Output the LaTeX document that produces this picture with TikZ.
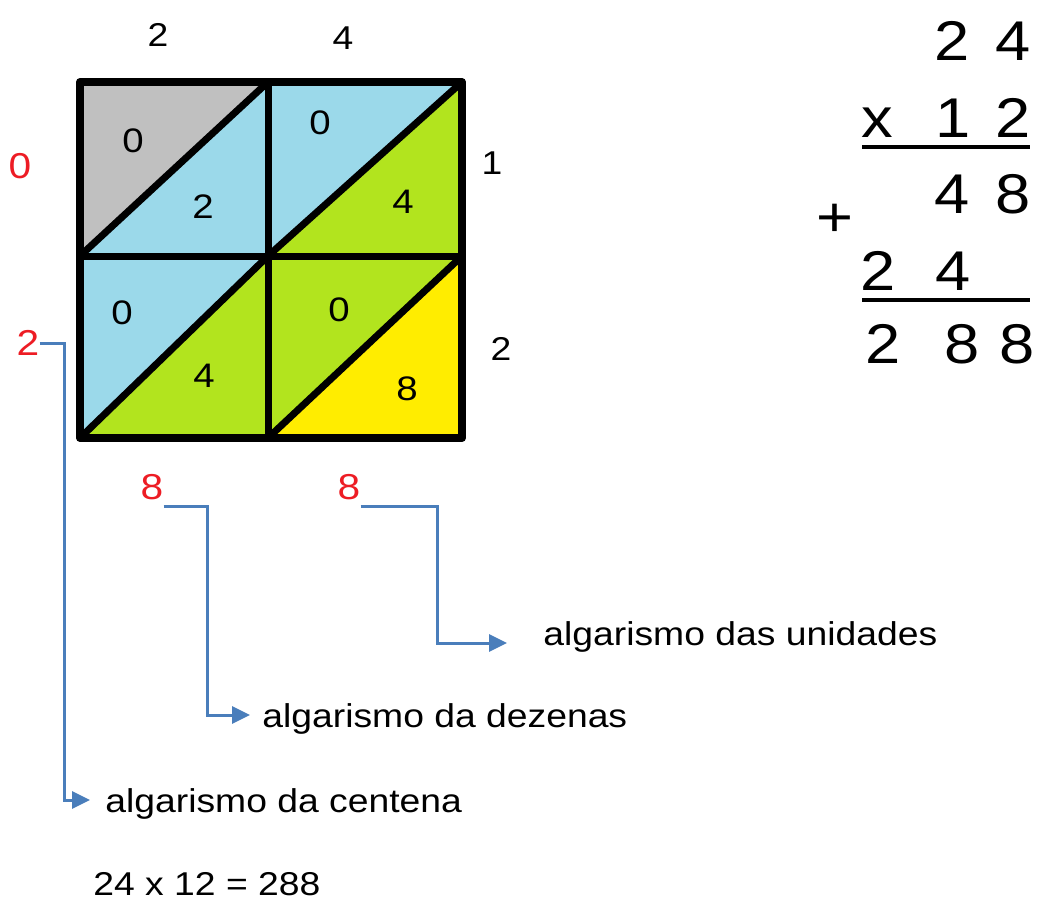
\documentclass[tikz,border=0pt]{standalone}
\usepackage{xcolor}
\usepackage{fontspec}
\setmainfont{Liberation Sans}[FakeStretch=1.13]
\usepackage{tikz}
\usetikzlibrary{arrows.meta}

\definecolor{cellgray}{RGB}{192,192,192}
\definecolor{cellblue}{RGB}{155,217,234}
\definecolor{cellgreen}{RGB}{178,228,30}
\definecolor{cellyellow}{RGB}{255,237,0}
\definecolor{digitred}{RGB}{237,28,36}
\definecolor{linkblue}{RGB}{74,126,187}

\begin{document}
\begin{tikzpicture}[
    x=0.5pt, y=-0.5pt,
    every node/.style={inner sep=0pt},
    gridline/.style={line width=3.5pt, line cap=round, line join=round},
    celldigit/.style={font=\fontsize{17}{20}\selectfont},
    factor/.style={font=\fontsize{16.5}{19}\selectfont},
    result/.style={font=\fontsize{18}{21}\selectfont, text=digitred},
    sumdigit/.style={font=\fontsize{28}{33}\selectfont, anchor=base},
    caption/.style={font=\fontsize{16.5}{20}\selectfont, anchor=base west},
    link/.style={draw=linkblue, line width=1.5pt, -{Triangle[length=9pt, width=8.5pt]}}
]
\useasboundingbox (0,0) rectangle (1042,901);

% Lattice corners
\coordinate (TL) at (80,82);  \coordinate (TM) at (268,82);  \coordinate (TR) at (462,82);
\coordinate (ML) at (80,256); \coordinate (MM) at (268,256); \coordinate (MR) at (462,256);
\coordinate (BL) at (80,438); \coordinate (BM) at (268,438); \coordinate (BR) at (462,438);

% Cell halves
\fill[cellgray]   (TL) -- (TM) -- (ML) -- cycle;
\fill[cellblue]   (TM) -- (MM) -- (ML) -- cycle;
\fill[cellblue]   (TM) -- (TR) -- (MM) -- cycle;
\fill[cellgreen]  (TR) -- (MR) -- (MM) -- cycle;
\fill[cellblue]   (ML) -- (MM) -- (BL) -- cycle;
\fill[cellgreen]  (MM) -- (BM) -- (BL) -- cycle;
\fill[cellgreen]  (MM) -- (MR) -- (BM) -- cycle;
\fill[cellyellow] (MR) -- (BR) -- (BM) -- cycle;

% Lattice lines
\draw[gridline, line width=4pt] (TL) rectangle (BR);
\draw[gridline] (TM) -- (BM);
\draw[gridline] (ML) -- (MR);
\draw[gridline] (ML) -- (TM);
\draw[gridline] (MM) -- (TR);
\draw[gridline] (BL) -- (MM);
\draw[gridline] (BM) -- (MR);

% Partial products
\node (p11a) [celldigit] at (133,141) {0};
\node (p11b) [celldigit] at (203,207) {2};
\node (p12a) [celldigit] at (320,123) {0};
\node (p12b) [celldigit] at (403,202) {4};
\node (p21a) [celldigit] at (122,313) {0};
\node (p21b) [celldigit] at (204,376) {4};
\node (p22a) [celldigit] at (339,310) {0};
\node (p22b) [celldigit] at (407,389) {8};

% Factors
\node (top2) [factor] at (158,35) {2};
\node (top4) [factor] at (343,38) {4};
\node (side1) [factor] at (492,163) {1};
\node (side2) [factor] at (501,349) {2};

% Result digits
\node (res0) [result] at (20,166) {0};
\node (cen2) [result] at (28,343) {2};
\node (dez8) [result] at (152,487) {8};
\node (uni8) [result] at (349,487) {8};

% Captions
\node (lcent) [caption] at (105,812) {algarismo da centena};
\node (ldez) [caption] at (262,727) {algarismo da dezenas};
\node (luni) [caption] at (543,645) {algarismo das unidades};
\node (eqn) [caption] at (93,895) {24 x 12 = 288};

% Arrows
\draw[link, shorten >=7.5pt] (cen2.east) -- ++(25,0) |- ([yshift=6pt]lcent.base west);
\draw[link, shorten >=6pt] ([yshift=-3pt]dez8.south east) -- ++(44,0) |- ([yshift=6pt]ldez.base west);
\draw[link, shorten >=18pt] ([yshift=-3pt]uni8.south east) -- ++(77,0) |- ([yshift=1pt]luni.base west);

% Column multiplication
\node (a2) [sumdigit] at (952,60) {2};
\node (a4) [sumdigit] at (1013,60) {4};
\node (bx) [sumdigit] at (877,137) {x};
\node (b1) [sumdigit] at (953,137) {1};
\node (b2) [sumdigit] at (1013,137) {2};
\node (c4) [sumdigit] at (952,213) {4};
\node (c8) [sumdigit] at (1013,213) {8};
\node (plus) [sumdigit, anchor=center] at (835,220) {+};
\node (d2) [sumdigit] at (878,290) {2};
\node (d4) [sumdigit] at (953,290) {4};
\node (e2) [sumdigit] at (883,363) {2};
\node (e8) [sumdigit] at (962,363) {8};
\node (e8b) [sumdigit] at (1017,363) {8};
\draw[line width=2pt] (862,147) -- (1030,147);
\draw[line width=2pt] (862,300) -- (1030,300);

\end{tikzpicture}
\end{document}
